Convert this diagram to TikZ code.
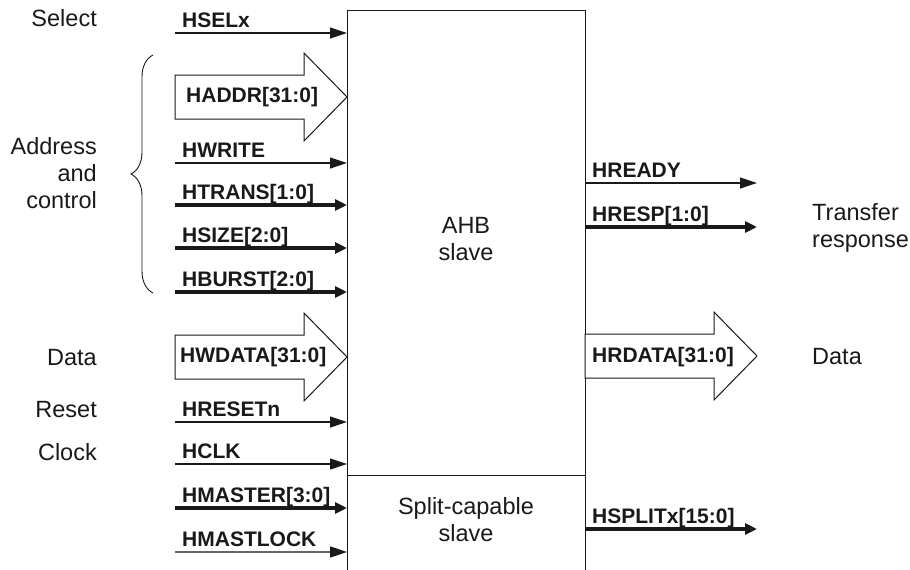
\documentclass[tikz,border=0pt]{standalone}
\usepackage{fontspec}
\setmainfont{Liberation Sans}
\usetikzlibrary{arrows.meta,decorations.pathreplacing,positioning}

\tikzset{
  sig/.style={font=\fontsize{21}{25}\selectfont\bfseries, inner sep=0pt, anchor=base west},
  txt/.style={font=\fontsize{23.5}{27}\selectfont, inner sep=0pt},
  wire/.style={line width=1.2pt, -{Triangle[length=17pt,width=11pt]}},
  bus/.style={line width=4pt, -{Triangle[length=12pt,width=11pt]}},
  lockwire/.style={line width=1.7pt, draw=black!60, -{Triangle[length=17pt,width=11pt,fill=black!90,color=black!90]}},
  fat/.style={draw, fill=white, line width=1pt, line join=miter},
}

\begin{document}
\begin{tikzpicture}[x=1pt, y=-1pt, color=black!90]
  \useasboundingbox (0,0) rectangle (910,570);
  % slave box
  \node[minimum width=238pt, minimum height=560pt, inner sep=0pt, anchor=north west] (slave) at (347,10) {};
  \draw[line width=1pt] (slave.south west) -- (slave.north west) -- (slave.north east) -- (slave.south east);
  \coordinate (split) at (347,475);
  \draw[line width=1pt] (split) -- (split -| slave.east);
  \node[txt, align=center] (ahb) at (466,239) {AHB\\slave};
  \node[txt, align=center] (splitslave) at (466,520) {Split-capable\\slave};
  % inputs
  \foreach \y/\name/\lbl/\sty in {33/hsel/HSELx/wire, 163/hwrite/HWRITE/wire,
      205/htrans/{HTRANS[1:0]}/bus, 248/hsize/{HSIZE[2:0]}/bus, 292/hburst/{HBURST[2:0]}/bus,
      422/hreset/HRESETn/wire, 464/hclk/HCLK/wire, 508/hmaster/{HMASTER[3:0]}/bus,
      552/hmastlock/HMASTLOCK/lockwire} {
    \coordinate (\name) at (175,\y);
    \node[sig] (\name-l) at (182,\y-5.5) {\lbl};
    \draw[\sty] (\name) -- (\name -| slave.west);
  }
  % outputs
  \foreach \y/\name/\lbl/\sty in {183/hready/HREADY/wire, 227/hresp/{HRESP[1:0]}/bus,
      529/hsplit/{HSPLITx[15:0]}/bus} {
    \coordinate (\name) at (757,\y);
    \node[sig] (\name-l) at (592,\y-5.5) {\lbl};
    \draw[\sty] (\name -| slave.east) -- (\name);
  }
  % wide buses
  \foreach \x/\y in {175/97, 175/357, 585/356} {
    \draw[fat] (\x,\y-22) -- ++(129,0) -- ++(0,-22) -- (\x+172,\y) -- (\x+129,\y+44)
      -- ++(0,-22) -- (\x,\y+22) -- cycle;
  }
  \node[sig, anchor=west] (haddr) at (186,97) {HADDR[31:0]};
  \node[sig, anchor=west] (hwdata) at (180,357) {HWDATA[31:0]};
  \node[sig, anchor=west] (hrdata) at (592,357) {HRDATA[31:0]};
  % left labels
  \node[txt, anchor=base east] (select) at (97,27) {Select};
  \node[txt, anchor=east, align=right] (addrctl) at (97,173) {Address\\and\\control};
  \node[txt, anchor=base east] (datain) at (97,365) {Data};
  \node[txt, anchor=base east] (reset) at (97,417) {Reset};
  \node[txt, anchor=base east] (clock) at (97,460) {Clock};
  \coordinate (brace-top) at (153,55);
  \coordinate (brace-bot) at (153,293);
  \draw[decorate, decoration={brace, amplitude=22pt}, line width=0.9pt] (brace-bot) -- (brace-top);
  % right labels
  \node[txt, anchor=west, align=left] (xfer) at (812,228) {Transfer\\response};
  \node[txt, anchor=west] (dataout) at (812,357) {Data};
\end{tikzpicture}
\end{document}
